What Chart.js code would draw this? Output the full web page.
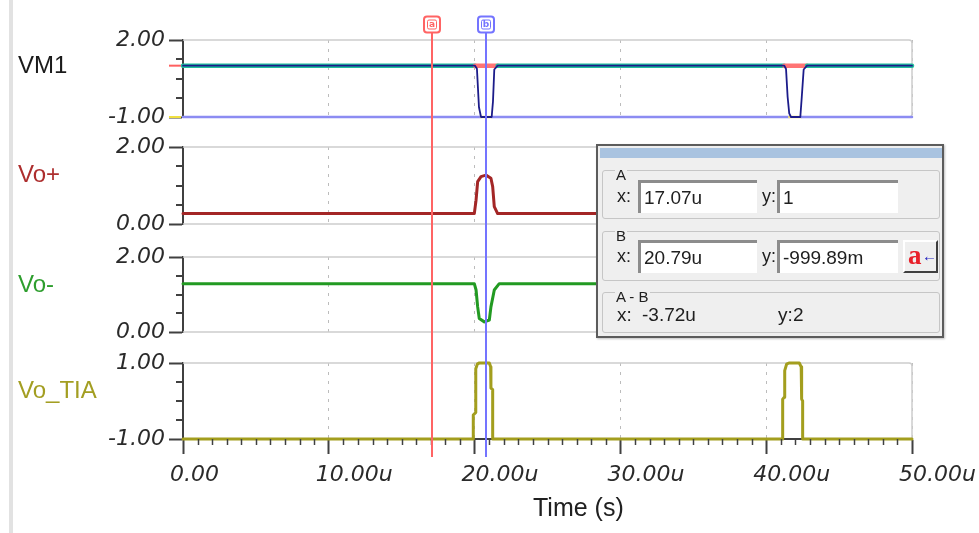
<!DOCTYPE html>
<html>
<head>
<meta charset="utf-8">
<script src="https://cdn.jsdelivr.net/npm/chart.js@4.4.1/dist/chart.umd.min.js"></script>
<style>
  html, body { margin: 0; padding: 0; background: #ffffff; }
  #wrap { position: relative; width: 979px; height: 533px; overflow: hidden; background: #ffffff; font-family: 'Liberation Sans', Arial, sans-serif; }
  canvas { position: absolute; left: 0; }
  .edge { position: absolute; left: 9px; top: 0; width: 4px; height: 533px; background: #e2e2e2; }
  .pname { position: absolute; left: 18px; font-size: 24px; line-height: 24px; white-space: nowrap; }
  .xtitle { position: absolute; left: 533px; top: 495px; font-size: 25px; line-height: 25px; color: #202020; white-space: nowrap; }
  #dlg { position: absolute; left: 596px; top: 144px; width: 348px; height: 194px; box-sizing: border-box;
         background: #efefef; border: 2px solid #5c5c5c; box-shadow: 1px 1px 2px rgba(0,0,0,0.25); }
  #dlg .bar { position: absolute; left: 2px; top: 2px; width: 342px; height: 10px; background: #a9c3e0; }
  #dlg .grp { position: absolute; left: 4px; width: 336px; border: 1px solid #c6c6c6; border-radius: 3px; }
  #dlg .glabel { position: absolute; left: 17px; font-size: 15px; line-height: 15px; color: #202020; background: #efefef; padding: 0 1px; }
  #dlg .lbl { position: absolute; height: 33px; line-height: 33px; font-size: 18px; color: #202020; }
  #dlg .inp { position: absolute; height: 33px; box-sizing: border-box; background: #ffffff;
              border-top: 3px solid #8c8c8c; border-left: 3px solid #8c8c8c; padding-left: 3px;
              line-height: 30px; font-size: 19px; color: #202020; white-space: nowrap; }
  #dlg .txt { position: absolute; line-height: 22px; font-size: 19px; color: #202020; white-space: nowrap; }
  #dlg .btn { position: absolute; left: 305px; top: 94px; width: 35px; height: 33px; box-sizing: border-box;
              border-top: 2px solid #ffffff; border-left: 2px solid #ffffff; border-right: 2px solid #404040; border-bottom: 2px solid #404040;
              background: #efefef; }
  #dlg .btn .a { position: absolute; left: 3px; top: -2px; font-family: 'Liberation Serif', serif; font-weight: bold; font-size: 27px; line-height: 30px; color: #e8202a; }
  #dlg .btn .arr { position: absolute; left: 17px; top: 4px; font-size: 15px; line-height: 20px; color: #2020c0; font-weight: bold; }
</style>
</head>
<body>
<div id="wrap">
  <div class="edge"></div>
  <canvas id="c1" width="979" height="134" style="top:0px"></canvas>
  <canvas id="c2" width="979" height="105" style="top:134px"></canvas>
  <canvas id="c3" width="979" height="108" style="top:239px"></canvas>
  <canvas id="c4" width="979" height="186" style="top:347px"></canvas>

  <div class="pname" style="top:53px;color:#1a1a1a">VM1</div>
  <div class="pname" style="top:162px;color:#ad2e2e">Vo+</div>
  <div class="pname" style="top:272px;color:#2e9e2e">Vo-</div>
  <div class="pname" style="top:378px;color:#a39e22">Vo_TIA</div>
  <div class="xtitle">Time (s)</div>

  <div id="dlg">
    <div class="bar"></div>
    <div class="grp" style="top:24px;height:47px"></div>
    <div class="glabel" style="top:21px">A</div>
    <div class="lbl" style="left:19px;top:34px">x:</div>
    <div class="inp" id="ax" style="left:40px;top:34px;width:119px"></div>
    <div class="lbl" style="left:164px;top:34px">y:</div>
    <div class="inp" id="ay" style="left:179px;top:34px;width:121px"></div>

    <div class="grp" style="top:85px;height:48px"></div>
    <div class="glabel" style="top:82px">B</div>
    <div class="lbl" style="left:19px;top:94px">x:</div>
    <div class="inp" id="bx" style="left:40px;top:94px;width:119px"></div>
    <div class="lbl" style="left:164px;top:94px">y:</div>
    <div class="inp" id="by" style="left:179px;top:94px;width:121px"></div>
    <div class="btn"><span class="a">a</span><span class="arr">&#8592;</span></div>

    <div class="grp" style="top:146px;height:39px"></div>
    <div class="glabel" style="top:143px">A - B</div>
    <div class="txt" style="left:19px;top:158px">x:</div>
    <div class="txt" id="dx" style="left:44px;top:158px"></div>
    <div class="txt" style="left:180px;top:158px">y:</div>
    <div class="txt" id="dy" style="left:195px;top:158px"></div>
  </div>
</div>
<script>
// ---------------- data (time in microseconds) ----------------
const xTickValues = [0, 10, 20, 30, 40, 50];
const xTickLabels = ['0.00', '10.00u', '20.00u', '30.00u', '40.00u', '50.00u'];

const vm1Range = [-1, 2];
const vm1YLabels = ['-1.00', '2.00'];
const vopRange = [0, 2];
const vopYLabels = ['0.00', '2.00'];
const vomRange = [0, 2];
const vomYLabels = ['0.00', '2.00'];
const tiaRange = [-1, 1];
const tiaYLabels = ['-1.00', '1.00'];

// VM1 main trace
const vm1T = [0, 20.03, 20.16, 20.30, 20.44, 21.17, 21.26, 21.35, 21.58, 41.24, 41.36, 41.47, 41.58, 41.70, 42.34, 42.44, 42.57, 42.80, 50];
const vm1V = [1, 1, 0.88, -0.62, -1, -1, -0.4, 0.85, 1, 1, 0.87, -0.22, -0.86, -1, -1, -0.22, 0.85, 1, 1];
// VM1 high / low level lines
const vm1HighT = [0, 20.03, 21.58, 41.24, 42.80, 50];
const vm1HighV = [1, 1, 1, 1, 1, 1];
const vm1LowT = [0, 20.44, 21.17, 41.58, 42.40, 50];
const vm1LowV = [-1, -1, -1, -1, -1, -1];

// Vo+
const vopT = [0, 19.98, 20.10, 20.21, 20.44, 20.78, 21.12, 21.24, 21.35, 21.58, 41.20, 41.32, 41.43, 41.66, 42.00, 42.34, 42.46, 42.57, 42.80, 50];
const vopV = [0.27, 0.27, 0.62, 1.10, 1.23, 1.27, 1.19, 0.97, 0.45, 0.27, 0.27, 0.62, 1.10, 1.23, 1.27, 1.19, 0.97, 0.45, 0.27, 0.27];

// Vo-
const vomT = [0, 19.98, 20.10, 20.21, 20.32, 20.67, 21.01, 21.12, 21.35, 21.69, 41.20, 41.32, 41.43, 41.54, 41.90, 42.24, 42.35, 42.58, 42.90, 50];
const vomV = [1.29, 1.29, 1.12, 0.67, 0.36, 0.27, 0.32, 0.67, 1.12, 1.29, 1.29, 1.12, 0.67, 0.36, 0.27, 0.32, 0.67, 1.12, 1.29, 1.29];

// Vo_TIA
const tiaT = [0, 19.91, 19.91, 20.08, 20.08, 20.20, 20.32, 21.01, 21.10, 21.12, 21.24, 21.24, 21.42,
              41.13, 41.13, 41.24, 41.27, 41.40, 41.56, 42.27, 42.40, 42.43, 42.50, 42.50, 42.59, 50];
const tiaV = [-1, -1, -0.37, -0.30, 0.85, 0.98, 1, 1, 0.90, 0.34, 0.30, -1, -1,
              -1, 0.05, 0.10, 0.80, 0.97, 1, 1, 0.90, 0.05, 0, -1, -1, -1];

// cursors
const cursorNames = ['a', 'b'];
const cursorX = [17.07, 20.79];
const cursorColors = ['#ff6464', '#7474ff'];

// readout texts
const readA = ['17.07u', '1'];
const readB = ['20.79u', '-999.89m'];
const readDiff = ['-3.72u', '2'];

document.getElementById('ax').textContent = readA[0];
document.getElementById('ay').textContent = readA[1];
document.getElementById('bx').textContent = readB[0];
document.getElementById('by').textContent = readB[1];
document.getElementById('dx').textContent = readDiff[0];
document.getElementById('dy').textContent = readDiff[1];

// ---------------- drawing ----------------
function xy(t, v) { return t.map((x, i) => ({ x: x, y: v[i] })); }

const AXIS = '#404040';
const tickFont = { family: "'DejaVu Sans', sans-serif", size: 22, style: 'italic' };

const decor = {
  id: 'decor',
  beforeDatasetsDraw(chart, args, o) {
    const { ctx, chartArea: a } = chart;
    ctx.save();
    ctx.strokeStyle = '#cdcdcd';
    ctx.lineWidth = 1.5;
    ctx.beginPath();
    ctx.moveTo(a.left, a.top);
    ctx.lineTo(a.right - 3, a.top);
    ctx.quadraticCurveTo(a.right, a.top, a.right, a.top + 3);
    ctx.lineTo(a.right, a.bottom - (o.frameBottom ? 3 : 0));
    if (o.frameBottom) {
      ctx.quadraticCurveTo(a.right, a.bottom, a.right - 3, a.bottom);
      ctx.lineTo(a.left, a.bottom);
    }
    ctx.stroke();
    ctx.restore();
  },
  afterDatasetsDraw(chart, args, o) {
    const { ctx, chartArea: a } = chart;
    const xs = chart.scales.x, ys = chart.scales.y;
    ctx.save();
    ctx.strokeStyle = AXIS;
    ctx.lineWidth = 2;
    // minor y ticks
    const step = (ys.max - ys.min) / 4;
    for (let k = 1; k < 4; k++) {
      const py = Math.round(ys.getPixelForValue(ys.min + k * step));
      ctx.beginPath(); ctx.moveTo(a.left - 7, py); ctx.lineTo(a.left, py); ctx.stroke();
    }
    // minor x ticks
    if (o.xMinor) {
      for (let v = 1; v < 50; v++) {
        if (v % 10 === 0) continue;
        const px = Math.round(xs.getPixelForValue(v)) + 0.5;
        ctx.lineWidth = 1.5;
        ctx.beginPath(); ctx.moveTo(px, a.bottom); ctx.lineTo(px, a.bottom + 6); ctx.stroke();
      }
    }
    // level marks on y axis
    (o.levelMarks || []).forEach(m => {
      const py = ys.getPixelForValue(m.value);
      ctx.strokeStyle = m.color; ctx.lineWidth = 2;
      ctx.beginPath(); ctx.moveTo(a.left - 14, py); ctx.lineTo(a.left - 2, py); ctx.stroke();
    });
    // cursor lines
    cursorX.forEach((cx, i) => {
      const px = Math.round(xs.getPixelForValue(cx));
      ctx.strokeStyle = cursorColors[i]; ctx.lineWidth = 2;
      ctx.beginPath(); ctx.moveTo(px, o.cursorTop); ctx.lineTo(px, o.cursorBottom); ctx.stroke();
    });
    // cursor markers
    if (o.markers) {
      cursorX.forEach((cx, i) => {
        const px = Math.round(xs.getPixelForValue(cx));
        ctx.fillStyle = '#ffffff';
        ctx.strokeStyle = cursorColors[i]; ctx.lineWidth = 2;
        ctx.beginPath();
        ctx.roundRect(px - 8, 16.5, 16, 16, 3);
        ctx.fill(); ctx.stroke();
        ctx.beginPath();
        ctx.roundRect(px - 4.5, 20, 9, 9, 1.5);
        ctx.lineWidth = 1; ctx.stroke();
        ctx.fillStyle = cursorColors[i];
        ctx.font = 'bold 9px "DejaVu Sans", sans-serif';
        ctx.textAlign = 'center'; ctx.textBaseline = 'middle';
        ctx.fillText(cursorNames[i], px, 24.5);
      });
    }
    ctx.restore();
  }
};

function makeChart(id, cfg) {
  return new Chart(document.getElementById(id), {
    type: 'line',
    data: { datasets: cfg.datasets },
    plugins: [decor],
    options: {
      responsive: false,
      animation: false,
      devicePixelRatio: 1,
      events: [],
      layout: { padding: { left: 0, right: 67, top: cfg.padTop, bottom: cfg.padBottom } },
      elements: {
        point: { radius: 0, hoverRadius: 0 },
        line: { tension: 0, borderCapStyle: 'round', borderJoinStyle: 'round', fill: false }
      },
      plugins: { legend: { display: false }, tooltip: { enabled: false }, decor: cfg.decor },
      scales: {
        x: {
          type: 'linear', min: 0, max: 50, position: 'bottom',
          afterBuildTicks: s => { s.ticks = xTickValues.map(v => ({ value: v })); },
          ticks: {
            display: cfg.showX, autoSkip: false, maxRotation: 0, minRotation: 0,
            align: 'start', labelOffset: -13, padding: 8, color: '#2a2a2a', font: tickFont,
            callback: (v, i) => xTickLabels[i]
          },
          grid: {
            display: true, drawOnChartArea: true, color: '#bcbcbc', lineWidth: 1,
            drawTicks: cfg.showX, tickLength: 15, tickColor: AXIS, tickWidth: 2
          },
          border: { display: cfg.showX, color: AXIS, width: 2, dash: [3, 6] },
          afterFit: s => { s.height = cfg.showX ? 94 : 0; s.paddingLeft = 0; s.paddingRight = 0; }
        },
        y: {
          type: 'linear', min: cfg.range[0], max: cfg.range[1], position: 'left',
          afterBuildTicks: s => { s.ticks = [{ value: cfg.range[0] }, { value: cfg.range[1] }]; },
          ticks: {
            autoSkip: false, padding: 4, color: '#2a2a2a', font: tickFont,
            callback: (v, i) => cfg.yLabels[i]
          },
          grid: { display: true, drawOnChartArea: false, drawTicks: true, tickLength: 14, tickColor: AXIS, tickWidth: 2 },
          border: { display: true, color: AXIS, width: 2 },
          afterFit: s => { s.width = 183; s.paddingTop = 0; s.paddingBottom = 0; }
        }
      }
    }
  });
}

makeChart('c1', {
  range: vm1Range, yLabels: vm1YLabels, padTop: 40, padBottom: 17, showX: false,
  decor: { frameBottom: true, cursorTop: 32, cursorBottom: 134, markers: true,
           levelMarks: [{ value: 1, color: '#ff6060' }, { value: -1, color: '#f0e040' }] },
  datasets: [
    { label: 'VM1', data: xy(vm1T, vm1V), borderColor: '#1c1c8a', borderWidth: 1.8, clip: 5 },
    { label: 'VM1 high', data: xy(vm1HighT, vm1HighV), borderWidth: 4.5, clip: 5,
      borderColor: '#1fc09c', segment: { borderColor: c => (c.p0DataIndex % 2 ? '#ff7474' : '#1fc09c') } },
    { label: 'VM1 low', data: xy(vm1LowT, vm1LowV), borderWidth: 2.5, clip: 5,
      borderColor: '#8c8cf2', segment: { borderColor: c => (c.p0DataIndex % 2 ? '#f2e27a' : '#8c8cf2') } }
  ]
});

makeChart('c2', {
  range: vopRange, yLabels: vopYLabels, padTop: 13, padBottom: 15, showX: false,
  decor: { frameBottom: true, cursorTop: 0, cursorBottom: 105, markers: false },
  datasets: [
    { label: 'Vo+', data: xy(vopT, vopV), borderColor: '#a32626', borderWidth: 3, clip: 5 }
  ]
});

makeChart('c3', {
  range: vomRange, yLabels: vomYLabels, padTop: 18, padBottom: 15, showX: false,
  decor: { frameBottom: true, cursorTop: 0, cursorBottom: 108, markers: false },
  datasets: [
    { label: 'Vo-', data: xy(vomT, vomV), borderColor: '#229a22', borderWidth: 3, clip: 5 }
  ]
});

makeChart('c4', {
  range: tiaRange, yLabels: tiaYLabels, padTop: 16, padBottom: 0, showX: true,
  decor: { frameBottom: false, cursorTop: 0, cursorBottom: 110, markers: false, xMinor: true },
  datasets: [
    { label: 'Vo_TIA', data: xy(tiaT, tiaV), borderColor: '#a39e1e', borderWidth: 3, clip: 5 }
  ]
});
</script>
</body>
</html>
